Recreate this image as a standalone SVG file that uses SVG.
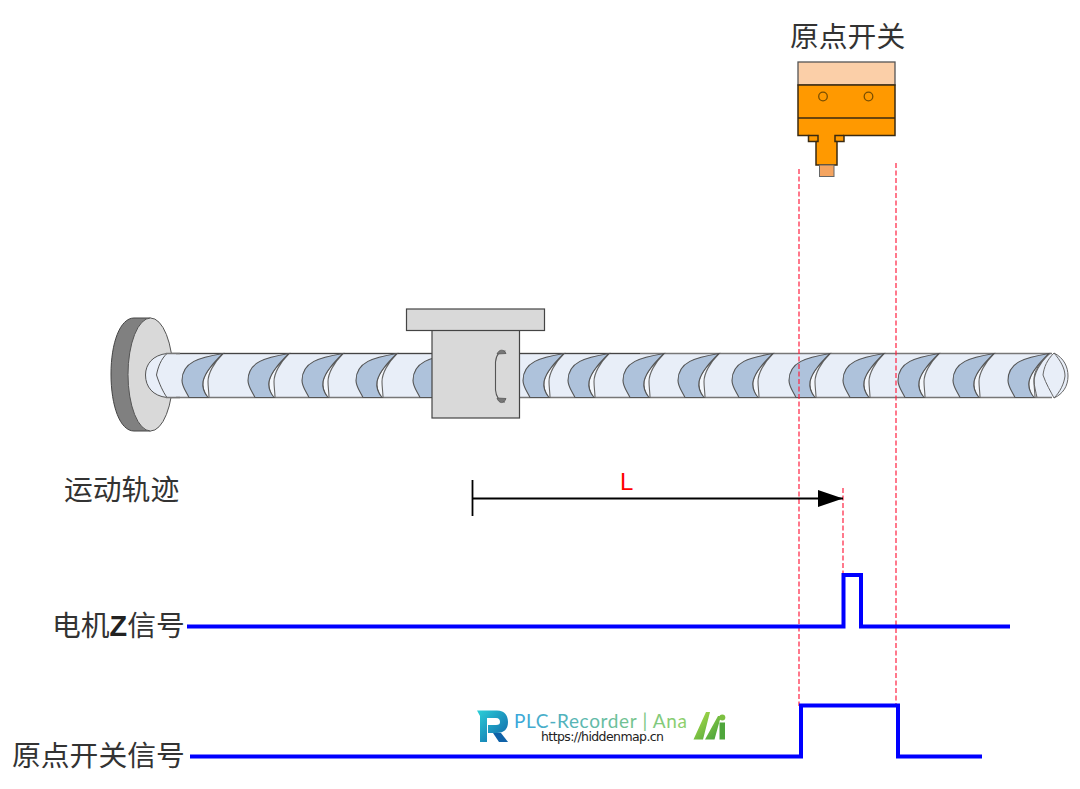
<svg xmlns="http://www.w3.org/2000/svg" width="1080" height="789" viewBox="0 0 1080 789">
<style>
.t{font-family:"Noto Sans CJK SC","Liberation Sans",sans-serif;font-size:28.8px;fill:#333}
.sig{fill:none;stroke:#0000ff;stroke-width:4}
.red{fill:none;stroke:#ff2040;stroke-width:1.2;stroke-dasharray:5 2.5}
.k{stroke:#3a2a10;stroke-width:1.5}
.o{fill:#ff9900}
.bl{fill:#aec2db;stroke:#555;stroke-width:1.1}
.wl{fill:#f4f7fc;stroke:#666;stroke-width:1.1}
.nut{fill:#d9d9d9;stroke:#444;stroke-width:1.2}
</style>
<defs>
<linearGradient id="tg" x1="0" x2="1" y1="0" y2="0"><stop offset="0" stop-color="#3aa6dc"/><stop offset="1" stop-color="#8fd06a"/></linearGradient>
<linearGradient id="rg" x1="0" x2="1" y1="0" y2="1"><stop offset="0" stop-color="#2bd0d8"/><stop offset="1" stop-color="#0f62a8"/></linearGradient>
<linearGradient id="ag" x1="0" x2="1" y1="0" y2="1"><stop offset="0" stop-color="#b4e04a"/><stop offset="1" stop-color="#3f9e3a"/></linearGradient>
<marker id="arr" markerUnits="userSpaceOnUse" markerWidth="25" markerHeight="18" refX="25" refY="8.500" orient="auto"><path d="M0,0L25,8.500L0,17Z" fill="#000"/></marker>
<g id="th">
<path class="wl" d="M41,0C32,9 26,20 26,28C26,34 27,39 27,44H25C22,39 20,34 21,28C23,18 33,8 41,0Z"/>
<path class="bl" d="M41,0C18,4 0,8 0,27C0,33 4,38 7,44L26,44C22,39 20,34 21,28C23,18 33,8 41,0Z"/>
</g>
</defs>

<g id="screw">
<path d="M160,353H1052V398H160Z" fill="#e8eef8"/>
<path d="M160,353.500H1052M160,397.500H1052" stroke="#777" stroke-width="1.600" fill="none"/>
<path d="M160,353.500H640" stroke="#444" stroke-width="1.200" fill="none"/>
</g>

<g id="flange">
<path d="M134,318H150.500V431H134C120,431 111,406 111,374C111,343 120,318 134,318Z" fill="#808080" stroke="#444" stroke-width="1"/>
<ellipse cx="150.500" cy="374.500" rx="22.500" ry="56.500" fill="#d9d9d9" stroke="#555" stroke-width="1"/>
<path d="M167,353.500C153,355 145.500,364 145.500,375C145.500,387 153,396 167,397.500H176V353.500Z" fill="#e8eef8"/>
<path d="M167,353.500C153,355 145.500,364 145.500,375C145.500,387 153,396 167,397.500" fill="none" stroke="#555" stroke-width="1"/>
<path d="M167,353.500C161,359 158,367 156.500,375C159,383 163,392 167,397.500" fill="none" stroke="#555" stroke-width="1"/>
<path d="M166,353.500H180M166,397.500H180" stroke="#777" stroke-width="1.600"/>
</g>

<g id="threads">
<use href="#th" x="182" y="353.500"/>
<use href="#th" x="248" y="353.500"/>
<use href="#th" x="302" y="353.500"/>
<use href="#th" x="356" y="353.500"/>
<use href="#th" x="413" y="353.500"/>
<use href="#th" x="523" y="353.500"/>
<use href="#th" x="568" y="353.500"/>
<use href="#th" x="623" y="353.500"/>
<use href="#th" x="678" y="353.500"/>
<use href="#th" x="732" y="353.500"/>
<use href="#th" x="789" y="353.500"/>
<use href="#th" x="843" y="353.500"/>
<use href="#th" x="898" y="353.500"/>
<use href="#th" x="953" y="353.500"/>
<use href="#th" x="1008" y="353.500"/>
</g>

<g id="screw-end" fill="none" stroke="#666" stroke-width="1">
<path d="M1050,353.500C1040,362 1034,370 1034,380C1034,386 1036,392 1037,397.500"/>
<path d="M1054,353C1047,360 1044,367 1043,375C1046,384 1051,392 1054,398" fill="#e8eef8"/>
<path d="M1054,353C1064,358 1068,367 1068,376C1068,386 1063,394 1054,398" fill="#e8eef8"/>
<path d="M1054,353C1060,360 1065,368 1065,376C1064,384 1060,392 1054,398"/>
</g>

<g id="nut">
<rect class="nut" x="432" y="330" width="87.500" height="88"/>
<rect class="nut" x="406.500" y="309" width="138" height="21.500"/>
<path d="M505.500,351C499,351 496,356 495.500,362V390C496,396 499,402 505,402" fill="none" stroke="#555" stroke-width="1.100"/>
<path d="M497,354C499,349 504,349 506,353.500Z M497,398C499,404 504,404 506,398.500Z" fill="#777" stroke="#555" stroke-width="0.800"/>
</g>

<g id="switch">
<rect x="798" y="62" width="97" height="23" fill="#fbcfa8" stroke="#555" stroke-width="1.300"/>
<path class="o k" d="M798,85H895V135.500H844V141.500H837V165H816V141.500H808.500V135.500H798Z"/>
<path class="k" d="M798,118H895M808.500,135.500H818V141.500H816M844,135.500H835V141.500H837" fill="none"/>
<circle cx="823" cy="96.500" r="4.300" fill="none" stroke="#7a4f00" stroke-width="1.300"/>
<circle cx="868.500" cy="96.500" r="4.300" fill="none" stroke="#7a4f00" stroke-width="1.300"/>
<rect x="819.500" y="165" width="14.500" height="11.500" fill="#f4a460" stroke="#666" stroke-width="1"/>
</g>

<g id="labels">
<text class="t" x="790" y="47">原点开关</text>
<text class="t" x="64" y="500">运动轨迹</text>
<text class="t" x="52" y="636">电机<tspan font-family="Liberation Sans,sans-serif" font-weight="700" fill="#222">Z</tspan>信号</text>
<text class="t" x="12" y="766">原点开关信号</text>
<text x="620" y="490" font-family="Liberation Sans,sans-serif" font-size="24" fill="#ff0000">L</text>
</g>

<g id="connectors">
<path class="red" d="M799,169V706M896,163V706M843,488V574"/>
<path d="M472.500,480V516" stroke="#000" stroke-width="1.800" fill="none"/>
<path d="M472.500,498.500H843" stroke="#000" stroke-width="1.800" fill="none" marker-end="url(#arr)"/>
<path class="sig" d="M187,626.500H843.500V575H861V626.500H1010"/>
<path class="sig" d="M190,756.500H801V705.500H898V756.500H982"/>
</g>

<g id="watermark">
<path d="M480,742V716L477,710.500H497C505,710.500 508,716 508,722C508,729 504,733 497,733H488V725H496C499,725 500,724 500,722C500,720 499,718 496,718H487V742Z" fill="url(#rg)"/>
<path d="M493,733H501L508,742H499Z" fill="#0f62a8"/>
<text x="514" y="728" font-family="Lato,Liberation Sans,sans-serif" font-size="19" fill="url(#tg)" textLength="173">PLC-Recorder | Ana</text>
<text x="541" y="741" font-family="DejaVu Sans,sans-serif" font-size="12.500" fill="#222" textLength="123">https://hiddenmap.cn</text>
<path d="M693.500,739.500L706,712H710L703,739.500Z M705,739.500L718,716H721L714.500,739.500Z" fill="url(#ag)"/>
<rect x="719.500" y="722.500" width="5.500" height="17" fill="#4fa63c"/>
<circle cx="722.300" cy="717.500" r="3" fill="#7cc040"/>
</g>
</svg>
